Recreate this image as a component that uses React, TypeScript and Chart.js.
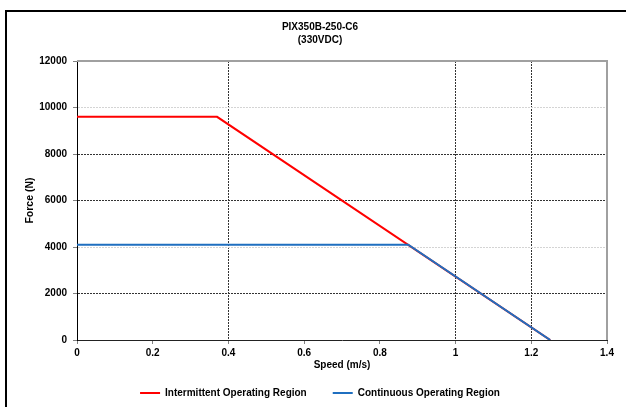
import React, { useEffect, useRef } from "react";
import { Chart, registerables } from "chart.js";

Chart.register(...registerables);

const titleLines = ["PIX350B-250-C6", "(330VDC)"];
const seriesNames = ["Intermittent Operating Region", "Continuous Operating Region"];
const intermittentSpeed = [0, 0.37, 1.25];
const intermittentForce = [9600, 9600, 0];
const continuousSpeed = [0, 0.875, 1.25];
const continuousForce = [4100, 4100, 0];
const xAxisTitle = "Speed (m/s)";
const yAxisTitle = "Force (N)";
const xRange = [0, 1.4, 0.2];
const yRange = [0, 12000, 2000];

const xGridDark = [0.4, 1.0, 1.2];
const yGridDark = [2000, 6000, 8000];
const yGridLight = [4000, 10000];

const FONT = "'Liberation Sans', Arial, sans-serif";
const near = (a: number, list: number[]) => list.some((v) => Math.abs(v - a) < 1e-6);

const W = 640;
const H = 402;

export default function App() {
  const ref = useRef<HTMLCanvasElement | null>(null);

  useEffect(() => {
    if (!ref.current) return;
    const frame = {
      id: "plotFrame",
      beforeDatasetsDraw(chart: any) {
        const { ctx, chartArea } = chart;
        ctx.save();
        ctx.strokeStyle = "#a0a0a0";
        ctx.lineWidth = 2;
        ctx.beginPath();
        ctx.moveTo(chartArea.left, chartArea.top);
        ctx.lineTo(chartArea.right, chartArea.top);
        ctx.lineTo(chartArea.right, chartArea.bottom);
        ctx.stroke();
        ctx.restore();
      },
    };
    const legendFit = {
      id: "legendFit",
      beforeInit(chart: any) {
        const legend = chart.legend;
        if (!legend) return;
        const orig = legend.fit;
        legend.fit = function () {
          orig.call(this);
          this.height = 40;
        };
      },
    };
    const chart = new Chart(ref.current, {
      type: "line",
      data: {
        datasets: [
          {
            label: seriesNames[0],
            data: intermittentSpeed.map((x, i) => ({ x, y: intermittentForce[i] })),
            borderColor: "#ff0000",
            backgroundColor: "#ff0000",
            borderWidth: 2,
            pointRadius: 0,
            tension: 0,
            order: 2,
            yAxisID: "y",
          },
          {
            label: seriesNames[1],
            data: continuousSpeed.map((x, i) => ({ x, y: continuousForce[i] })),
            borderColor: "#1f6fc0",
            backgroundColor: "#1f6fc0",
            borderWidth: 2,
            pointRadius: 0,
            tension: 0,
            order: 1,
            yAxisID: "y",
          },
        ],
      },
      options: {
        responsive: false,
        animation: false,
        layout: { padding: 0 },
        scales: {
          x: {
            type: "linear",
            min: xRange[0],
            max: xRange[1],
            ticks: {
              stepSize: xRange[2],
              padding: 3,
              color: "#000",
              font: { family: FONT, size: 10, weight: "bold" },
              callback: (v: any) => String(+Number(v).toFixed(1)),
            },
            grid: {
              color: (c: any) => (c.tick && near(c.tick.value, xGridDark) ? "#333" : "rgba(0,0,0,0)"),
              tickColor: "#808080",
              tickLength: 4,
            },
            border: { display: true, color: "#222", width: 1, dash: [2, 1] },
            title: {
              display: true,
              text: xAxisTitle,
              color: "#000",
              font: { family: FONT, size: 10, weight: "bold" },
              padding: { top: 0, bottom: -9 },
            },
            afterFit: (s: any) => {
              s.height = 22;
            },
          },
          y: {
            type: "linear",
            position: "left",
            min: yRange[0],
            max: yRange[1],
            ticks: {
              stepSize: yRange[2],
              padding: 6,
              color: "#000",
              font: { family: FONT, size: 10, weight: "bold" },
              callback: (v: any) => String(v),
            },
            grid: {
              color: (c: any) => {
                const v = c.tick ? c.tick.value : -1;
                if (near(v, yGridDark)) return "#333";
                if (near(v, yGridLight)) return "#d4d4d4";
                return "rgba(0,0,0,0)";
              },
              tickColor: "#808080",
              tickLength: 4,
            },
            border: { display: true, color: "#000", width: 1, dash: [2, 1] },
            title: {
              display: true,
              text: yAxisTitle,
              color: "#000",
              font: { family: FONT, size: 10.5, weight: "bold" },
              padding: { top: 24, bottom: 0 },
            },
            afterFit: (s: any) => {
              s.width = 77;
            },
          },
          y2: {
            type: "linear",
            position: "right",
            display: true,
            grid: { display: false, drawOnChartArea: false },
            ticks: { display: false },
            border: { display: false },
            afterFit: (s: any) => {
              s.width = 33;
            },
          },
        },
        plugins: {
          title: {
            display: true,
            text: titleLines,
            color: "#000",
            font: { family: FONT, size: 10, weight: "bold", lineHeight: 1.3 },
            padding: { top: 21, bottom: 14 },
          },
          legend: {
            display: true,
            position: "bottom",
            labels: {
              usePointStyle: true,
              pointStyle: "line",
              pointStyleWidth: 20,
              padding: 26,
              color: "#000",
              font: { family: FONT, size: 10, weight: "bold" },
              sort: (a: any, b: any) => a.datasetIndex - b.datasetIndex,
            },
          },
          tooltip: { enabled: false },
        },
      } as any,
      plugins: [frame, legendFit],
    });
    return () => chart.destroy();
  }, []);

  return (
    <div
      style={{
        position: "fixed",
        left: 0,
        top: 0,
        width: 626,
        height: 407,
        overflow: "hidden",
        background: "#fff",
      }}
    >
      <canvas
        ref={ref}
        width={W}
        height={H}
        style={{ position: "absolute", left: 0, top: 0, width: W, height: H }}
      />
      <div
        style={{
          position: "absolute",
          left: 5,
          top: 10,
          width: 700,
          height: 500,
          borderLeft: "2px solid #000",
          borderTop: "2px solid #000",
          pointerEvents: "none",
        }}
      />
    </div>
  );
}
